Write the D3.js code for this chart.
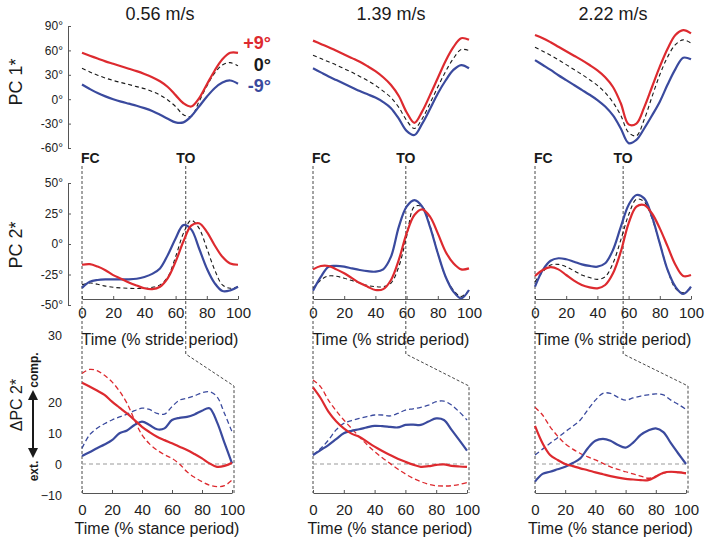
<!DOCTYPE html>
<html><head><meta charset="utf-8">
<script src="https://cdn.jsdelivr.net/npm/d3@7"></script>
<style>body{margin:0;background:#fff}</style>
</head><body><svg id="c" width="707" height="539"></svg>
<script>
// ---------------- DATA ----------------
const speeds = ["0.56 m/s", "1.39 m/s", "2.22 m/s"];
const timePct = [0,5,10,15,20,25,30,35,40,45,50,55,60,65,70,75,80,85,90,95,100];
const toeOffPct = [66.5, 59.5, 56.5];
const pc1Ticks = [90, 60, 30, 0, -30, -60];
const pc2Ticks = [50, 25, 0, -25, -50];
const dpcTicks = [20, 10, 0, -10];
const dpcTopLabel = "30";
const timeTicks = [0, 20, 40, 60, 80, 100];
const legendLabels = ["+9°", "0°", "-9°"];

// PC 1* (deg) vs % stride, per speed
const pc1Plus9 = [
  [57,53.5,50,46.5,43.5,40.5,37.5,34.5,31,27,22,15,5,-5,-9,1,18,35,49,57,57],
  [72,68,64,59.5,55,50.5,46,40.5,34.5,27,17.5,4,-16,-29,-15,5,26,47,64,75,73],
  [79,75,70,64.5,59,53.5,48,42,35.5,27,15,-5,-31,-30,-10,15,40,62,79,85,81]
];
const pc1Zero = [
  [38,33.5,29.5,26,23,20.5,18,15.5,13,9.5,5,-1,-9,-19,-21,-3,16,32,42,45,41],
  [54,50,46,42,37.5,33,28,23,17,10,2,-10,-26,-36,-24,-5,15,34,50,61,60],
  [64,59,54,48.5,42.5,36.5,30.5,24,17,8,-4,-20,-41,-45,-25,3,30,52,67,73,69]
];
const pc1Minus9 = [
  [18,12.5,7.5,3.5,0,-3,-5.5,-8,-11,-14.5,-19,-24,-28.5,-28.5,-21,-9,3,13.5,20.5,23,19],
  [38,33,28,23.5,19,14.5,10,6,2,-3.5,-11,-24,-39,-44,-30,-12,7,23,36,42,38],
  [48,42,36,29.5,23.5,17.5,11.5,5.5,-1,-9,-20,-36,-54,-50,-36,-20,-3,18,37,51,49]
];
// PC 2* (deg) vs % stride
const pc2Plus9 = [
  [-17,-16.5,-18.5,-21.5,-25.5,-28.5,-31.5,-34,-36.3,-37,-35,-28,-14.5,2,15,17,10,-1,-10.5,-16,-17],
  [-20.8,-18,-18,-20.8,-24,-28,-32,-35,-37.7,-37,-29.5,-13,8.7,23.8,28.4,22.4,8.7,-6.3,-15.8,-20.8,-20],
  [-26.2,-21.3,-19,-20.8,-25.4,-30,-33.6,-35.5,-36.3,-33.6,-24,-6.3,17,30.6,32,25,12.8,-2,-17,-26.2,-25.4]
];
const pc2Zero = [
  [-33.5,-32,-33,-34.5,-35.5,-36,-36.3,-36.5,-36.3,-35.5,-33.5,-27,-10.5,8.7,19.5,13,-3.5,-21,-33.5,-36.3,-35],
  [-36.3,-29.5,-26.2,-26.5,-28,-30,-32,-34,-35,-35,-32,-18.6,6,30.6,30.6,15,-7.6,-26.8,-37.7,-43,-38],
  [-31,-22.7,-17.2,-16.7,-18.6,-22,-25.4,-27.5,-29,-26.8,-15.8,3.3,23.8,36.6,34.7,21,0.5,-21.3,-36.3,-40,-36]
];
const pc2Minus9 = [
  [-36,-31,-29.5,-29,-29,-29,-29,-28.5,-27,-24.5,-20,-9,4.5,15.5,12,-3.5,-20,-32,-38.5,-38,-35],
  [-38.3,-27,-18.6,-18,-18.6,-20,-21.3,-22.3,-22.7,-20.8,-10.4,14,30.6,36,30.6,14,-7.6,-26.8,-39,-44.5,-37.7],
  [-35,-21.3,-13.7,-11.7,-12.5,-14.5,-16.7,-18,-18.6,-15.8,-4.9,14,32,40.2,37.4,22.4,0.5,-21.3,-35,-41,-35]
];
// Delta PC 2* vs % stance
const dpcRedSolid = [
  [26.2,25,23.7,22.3,20.1,18.2,16.3,14.2,12,10.3,8.8,7.7,6.7,5.6,4.5,3.2,1.8,0.2,-0.9,-0.6,0.4],
  [24.7,21.2,16.9,13.8,11.5,9.8,8.8,7.2,5.6,4.2,2.9,1.7,0.7,-0.2,-0.9,-0.7,-0.3,-0.1,-0.6,-0.8,-0.9],
  [12.3,6.7,2.9,1.3,0,-0.7,-1.4,-2,-2.7,-3.3,-3.9,-4.4,-4.8,-5,-5.2,-5.2,-4.1,-2.8,-2.5,-2.7,-3]
];
const dpcRedDashed = [
  [29.2,30.5,30.1,28.6,26.5,23.5,19.6,14.2,9.4,6.5,4.5,3,1.8,0,-2.5,-4.3,-5.7,-6.8,-7.3,-7,-5.2],
  [27.1,24.9,20.6,17.2,14.2,11.5,8.8,6.3,4,2,0.2,-1.6,-3.2,-4.6,-5.7,-6.5,-7,-7.1,-7,-6.6,-6],
  [18.3,15.8,12,9,6.5,4.8,3.4,2.3,1.3,0.2,-0.9,-1.7,-2.5,-3.2,-3.9,-4.6,-3.9,-3,-2.5,-2.6,-2.8]
];
const dpcBlueSolid = [
  [2.6,3.8,5.1,6.3,7.7,9.9,10.8,12.6,13.7,12.6,11.2,11.5,14.2,14.9,15.2,16,17.2,18,13.5,6.8,0.2],
  [2.9,4.5,6.1,8,9.9,10.7,11.2,11.8,12.3,12.2,12,11.8,12.6,12.7,12.6,13.7,14.7,14.2,11,7.7,4.3],
  [-5.7,-3.2,-2.5,-1.7,-0.9,0.3,1.8,5.1,7.5,8.1,7.5,6.1,5.3,6.9,9.4,10.8,11.5,10.3,6.7,3.3,0]
];
const dpcBlueDashed = [
  [5.1,9.4,11.5,13,14.2,15.2,16.1,17.2,18,17.6,16.3,16.1,18.5,20.6,21.2,22,23,23.3,21.7,16.3,10.4],
  [2.9,5,7.7,11,13.1,14,14.7,15.3,15.8,15.8,15.5,16.3,17.4,17.8,18.3,19,20.1,20.3,19,16.8,14.2],
  [2.9,4.8,6.7,8.5,10.4,12.2,14.2,17.5,20.6,22.8,22.8,21.5,20.6,21.3,21.9,22.3,22.6,22.3,20.6,19.2,17.6]
];

// ---------------- LAYOUT / STYLE ----------------
const RED = "#dd2a2f", BLUE = "#3a4a9e", INK = "#1a1a1a", AX = "#555";
const FONT = "'Liberation Sans', Arial, Helvetica, sans-serif";
const strideX0 = [82, 313, 535], strideW = 156;
const stanceW = [150, 154, 151];
const row1Top = 26, row1Bot = 148;
const row2Top = 183, row2Bot = 305, row2AxisY = 299;
const row3AxisY = 493;
const yAxisX = 68;

const svg = d3.select("#c").style("font-family", FONT);

const y1 = d3.scaleLinear().domain([-60, 90]).range([row1Bot, row1Top]);
const y2 = d3.scaleLinear().domain([-50, 50]).range([row2Bot, row2Top]);
const y3 = d3.scaleLinear().domain([-10, 20]).range([495, 402]);

function xStride(i){ return d3.scaleLinear().domain([0,100]).range([strideX0[i], strideX0[i]+strideW]); }
function xStance(i){ return d3.scaleLinear().domain([0,100]).range([strideX0[i], strideX0[i]+stanceW[i]]); }

function drawLine(g, vals, x, y, color, width, dash){
  const line = d3.line().x((d,k)=>x(timePct[k])).y(d=>y(d)).curve(d3.curveCatmullRom.alpha(0.5));
  g.append("path").attr("d", line(vals)).attr("fill","none")
    .attr("stroke", color).attr("stroke-width", width)
    .attr("stroke-dasharray", dash || null).attr("stroke-linejoin","round").attr("stroke-linecap","butt");
}

function styleAxis(g, fs){
  g.select(".domain").attr("stroke", AX).attr("stroke-width", 1);
  g.selectAll(".tick line").attr("stroke", AX);
  g.selectAll(".tick text").attr("fill", "#222").style("font-size", fs+"px").style("font-family", FONT);
}

// ---- Y axes rows 1 & 2
const ax1 = svg.append("g").attr("transform", `translate(${yAxisX},0)`)
  .call(d3.axisLeft(y1).tickValues(pc1Ticks).tickFormat(d=>d+"°").tickSizeInner(-3).tickSizeOuter(0).tickPadding(5));
styleAxis(ax1, 12);
const ax2 = svg.append("g").attr("transform", `translate(${yAxisX},0)`)
  .call(d3.axisLeft(y2).tickValues(pc2Ticks).tickFormat(d=>d+"°").tickSizeInner(-3).tickSizeOuter(0).tickPadding(5));
styleAxis(ax2, 12);
// Row 3 y labels (no axis line)
const ax3 = svg.append("g").attr("transform", `translate(${yAxisX},0)`)
  .call(d3.axisLeft(y3).tickValues(dpcTicks).tickSize(0).tickPadding(6));
ax3.select(".domain").remove();
styleAxis(ax3, 12.5);

// Row labels
function rotLabel(text, x, y, size, weight){
  svg.append("text").attr("transform", `translate(${x},${y}) rotate(-90)`)
    .attr("text-anchor","middle").style("font-size", size+"px").style("font-weight", weight||"normal")
    .attr("fill", INK).text(text);
}
rotLabel("PC 1*", 22, 82, 18);
rotLabel("PC 2*", 22, 245, 18);
rotLabel("ΔPC 2*", 22, 405, 16);
rotLabel("comp.", 38, 370, 12, "bold");
rotLabel("ext.", 38, 471, 12, "bold");
// double arrow
const defs = svg.append("defs");
defs.append("marker").attr("id","ah").attr("viewBox","0 0 10 10").attr("refX",8).attr("refY",5)
  .attr("markerWidth",5).attr("markerHeight",5).attr("orient","auto-start-reverse")
  .append("path").attr("d","M0,0 L10,5 L0,10 z").attr("fill", INK);
svg.append("line").attr("x1",33).attr("x2",33).attr("y1",392).attr("y2",456)
  .attr("stroke",INK).attr("stroke-width",2).attr("marker-start","url(#ah)").attr("marker-end","url(#ah)");

speeds.forEach((sp, i) => {
  const xs = xStride(i), xt = xStance(i);
  const g = svg.append("g");
  // title
  g.append("text").attr("x", strideX0[i] + strideW/2).attr("y", 20).attr("text-anchor","middle")
    .style("font-size","18px").attr("fill", INK).text(sp);

  // Row 1
  drawLine(g, pc1Zero[i], xs, y1, INK, 1.1, "4,3");
  drawLine(g, pc1Minus9[i], xs, y1, BLUE, 2.2);
  drawLine(g, pc1Plus9[i], xs, y1, RED, 2.2);

  // Row 2 axis
  const xa = g.append("g").attr("transform", `translate(0,${row2AxisY})`)
    .call(d3.axisBottom(xs).tickValues(timeTicks).tickSizeInner(-3).tickSizeOuter(0).tickPadding(8));
  styleAxis(xa, 15);
  g.append("text").attr("x", strideX0[i] + strideW/2).attr("y", 345).attr("text-anchor","middle")
    .style("font-size","16px").attr("fill", INK).text("Time (% stride period)");

  // FC / TO markers
  const fcX = xs(0), toX = xs(toeOffPct[i]), endX = xt(100) + 2;
  g.append("text").attr("x", fcX - 1).attr("y", 163).style("font-size","14px").style("font-weight","bold")
    .attr("fill", INK).text("FC");
  g.append("text").attr("x", toX).attr("y", 163).attr("text-anchor","middle").style("font-size","14px")
    .style("font-weight","bold").attr("fill", INK).text("TO");
  g.append("line").attr("x1", fcX).attr("x2", fcX).attr("y1", 166).attr("y2", row3AxisY)
    .attr("stroke", "#333").attr("stroke-width", 0.9).attr("stroke-dasharray","3,2");
  g.append("polyline").attr("points", `${toX},166 ${toX},354 ${endX},386 ${endX},${row3AxisY}`)
    .attr("fill","none").attr("stroke", "#333").attr("stroke-width", 0.9).attr("stroke-dasharray","3,2");

  drawLine(g, pc2Zero[i], xs, y2, INK, 1.1, "4,3");
  drawLine(g, pc2Minus9[i], xs, y2, BLUE, 2.2);
  drawLine(g, pc2Plus9[i], xs, y2, RED, 2.2);

  // Row 3
  const xb = g.append("g").attr("transform", `translate(0,${row3AxisY})`)
    .call(d3.axisBottom(xt).tickValues(timeTicks).tickSizeInner(-3).tickSizeOuter(0).tickPadding(11));
  styleAxis(xb, 15);
  g.append("text").attr("x", xt(50)).attr("y", 534).attr("text-anchor","middle")
    .style("font-size","16px").attr("fill", INK).text("Time (% stance period)");
  g.append("line").attr("x1", xt(0)).attr("x2", xt(100)).attr("y1", y3(0)).attr("y2", y3(0))
    .attr("stroke", "#999").attr("stroke-width", 1).attr("stroke-dasharray","4,3");
  drawLine(g, dpcBlueDashed[i], xt, y3, BLUE, 1.3, "5,3");
  drawLine(g, dpcRedDashed[i], xt, y3, RED, 1.3, "5,3");
  drawLine(g, dpcBlueSolid[i], xt, y3, BLUE, 2.2);
  drawLine(g, dpcRedSolid[i], xt, y3, RED, 2.2);
});

// stray "30" label of delta axis (sits at the stride-label height)
svg.append("text").attr("x", yAxisX - 6).attr("y", 340).attr("text-anchor","end")
  .style("font-size","12.5px").attr("fill","#222").text(dpcTopLabel);

// legend
const legColors = [RED, INK, BLUE];
legendLabels.forEach((t, k) => {
  svg.append("text").attr("x", strideX0[0] + strideW + 33).attr("y", 49 + k*21.5).attr("text-anchor","end")
    .style("font-size","18px").style("font-weight","bold").attr("fill", legColors[k]).text(t);
});
</script></body></html>
